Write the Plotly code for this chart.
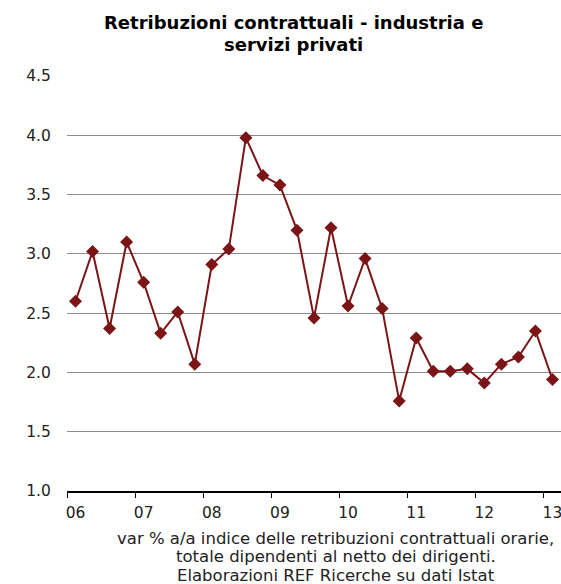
import plotly.graph_objects as go

# trimestri 2006Q1 - 2013Q1
trimestri = [f"{a}Q{q}" for a in range(2006, 2014) for q in range(1, 5)][:29]
valori = [2.60, 3.02, 2.37, 3.10, 2.76, 2.33, 2.51, 2.07,
          2.91, 3.04, 3.98, 3.66, 3.58, 3.20, 2.46, 3.22,
          2.56, 2.96, 2.54, 1.76, 2.29, 2.01, 2.01, 2.03,
          1.91, 2.07, 2.13, 2.35, 1.94]
etichette_anni = ["06", "07", "08", "09", "10", "11", "12", "13"]
titolo = ["Retribuzioni contrattuali - industria e", "servizi privati"]
note = ["var % a/a indice delle retribuzioni contrattuali orarie,",
        "totale dipendenti al netto dei dirigenti.",
        "Elaborazioni REF Ricerche su dati Istat"]

font_base = "DejaVu Sans, Verdana, sans-serif"

fig = go.Figure(go.Scatter(
    x=trimestri, y=valori, mode='lines+markers',
    line=dict(color='#7b1416', width=2),
    marker=dict(symbol='diamond', size=10, color='#7b1416'),
))

fig.update_layout(
    width=561, height=584,
    margin=dict(t=76, b=93, l=67, r=0),
    paper_bgcolor='white',
    plot_bgcolor='white',
    showlegend=False,
    font=dict(family=font_base, color='#222222', size=15.5),
    xaxis=dict(
        type='category',
        tickmode='array',
        tickvals=trimestri[::4],
        ticktext=etichette_anni,
        tickson='boundaries',
        tickangle=0,
        ticks='outside', ticklen=5, tickcolor='black',
        ticklabelstandoff=7,
        showline=True, linecolor='black', linewidth=1.5,
        showgrid=False,
        range=[-0.5, 28.5],
    ),
    yaxis=dict(
        range=[1.0, 4.5],
        dtick=0.5,
        tickformat='.1f',
        showgrid=True, gridcolor='#8c8c8c', gridwidth=1,
        zeroline=False, showline=False,
        ticks='outside', ticklen=12, tickcolor='white',
    ),
)

# titolo su due righe
for riga, yy in zip(titolo, [1.130, 1.075]):
    fig.add_annotation(
        text=f'<b>{riga}</b>', xref='paper', yref='paper', x=0.4575, y=yy,
        xanchor='center', yanchor='middle', showarrow=False,
        font=dict(size=18, color='black', family=font_base),
    )

# nota sotto il grafico
for riga, yy in zip(note, [-0.1133, -0.1590, -0.2048]):
    fig.add_annotation(
        text=riga, xref='paper', yref='paper', x=0.5445, y=yy,
        xanchor='center', yanchor='middle', showarrow=False,
        font=dict(size=16.5, color='#222222', family=font_base),
    )

fig.write_html("out.html", config={'displayModeBar': False},
               post_script="document.body.style.margin='0';")
